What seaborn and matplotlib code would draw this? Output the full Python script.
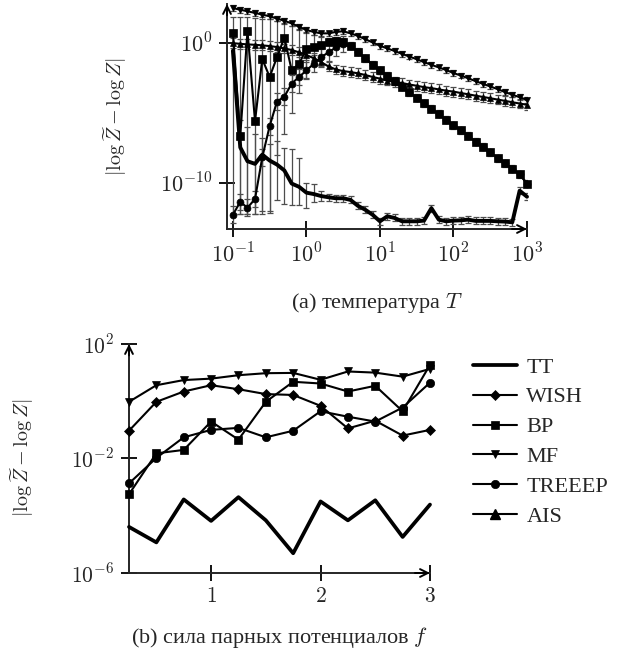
import numpy as np
import matplotlib
matplotlib.use("Agg")
import matplotlib.pyplot as plt
import seaborn as sns
from matplotlib.ticker import NullLocator

# --- top panel: temperature T (values are log10 of the error) ---
T = [0.1, 0.126, 0.158, 0.2, 0.251, 0.316, 0.398, 0.501, 0.631, 0.794,
     1, 1.26, 1.58, 2, 2.51, 3.16, 3.98, 5.01, 6.31, 7.94,
     10, 12.6, 15.8, 20, 25.1, 31.6, 39.8, 50.1, 63.1, 79.4,
     100, 126, 158, 200, 251, 316, 398, 501, 631, 794, 1000]

mf_T = [2.51, 2.39, 2.28, 2.16, 2.04, 1.92, 1.76, 1.60, 1.41, 1.17,
        0.94, 0.80, 0.70, 0.70, 0.80, 0.85, 0.70, 0.52, 0.28, 0.05,
        -0.19, -0.38, -0.56, -0.77, -0.96, -1.15, -1.36, -1.55, -1.74, -1.92,
        -2.14, -2.32, -2.51, -2.72, -2.91, -3.10, -3.29, -3.50, -3.69, -3.87, -4.06]

ais_T = [0.00, -0.05, -0.09, -0.12, -0.16, -0.21, -0.28, -0.38, -0.49, -0.66,
         -0.85, -1.08, -1.36, -1.67, -1.88, -2.00, -2.07, -2.16, -2.28, -2.42,
         -2.54, -2.68, -2.77, -2.86, -2.96, -3.05, -3.15, -3.22, -3.31, -3.40,
         -3.47, -3.57, -3.66, -3.76, -3.85, -3.94, -4.04, -4.13, -4.23, -4.32, -4.41]

bp_T = [0.75, -6.64, 0.87, -5.59, -1.13, -2.42, -1.01, 0.40, -1.95, -1.48,
        -0.42, -0.31, -0.14, 0.09, 0.16, 0.09, -0.19, -0.61, -1.08, -1.55,
        -1.95, -2.35, -2.72, -3.12, -3.52, -3.90, -4.30, -4.69, -5.07, -5.47,
        -5.87, -6.24, -6.64, -7.04, -7.42, -7.82, -8.22, -8.59, -8.99, -9.39, -10.05]

treeep_T = [-12.28, -11.36, -11.78, -11.15, -8.17, -5.94, -4.18, -3.83, -2.89, -2.42,
            -1.95, -1.48, -1.01, -0.66, -0.31, -0.07, -0.19, -0.61, -1.08, -1.55,
            -1.95, -2.35, -2.72, -3.12, -3.52, -3.90, -4.30, -4.69, -5.07, -5.47,
            -5.87, -6.24, -6.64, -7.04, -7.42, -7.82, -8.22, -8.59, -8.99, -9.39, -10.05]

tt_T = [-0.54, -7.46, -8.45, -8.64, -7.98, -8.40, -8.69, -9.11, -10.05, -10.28,
        -10.70, -10.80, -10.94, -11.03, -11.10, -11.10, -11.22, -11.64, -11.92, -12.28,
        -12.75, -12.39, -12.51, -12.75, -12.75, -12.75, -12.70, -11.81, -12.63, -12.75,
        -12.70, -12.68, -12.63, -12.72, -12.72, -12.72, -12.75, -12.77, -12.82, -10.56, -10.99]

# error bar ranges (log10 lower / upper) where the bars are large
bp_lo = [-12.2, -12.2, -12.2, -12.2, -12.2, -12.0, -8.0, -6.5, -5.0, -3.6, -2.5, -1.6, -1.0]
bp_hi = [1.85, 1.85, 1.85, 1.8, 1.75, 1.7, 1.6, 1.45, 1.2, 1.0, 0.8, 0.6, 0.45]
tt_lo = [-12.2, -12.2, -12.2, -12.0, -12.16, -11.2, -11.5, -11.6, -11.6, -11.8, -11.4, -11.3]
tt_hi = [-5.5, -6.0, -6.5, -6.8, -7.2, -7.0, -7.5, -7.6, -8.2, -10.0, -10.1, -10.6]
mf_err, ais_err, treeep_err, small_err = 0.2, 0.35, 0.6, 0.25

# --- bottom panel: pairwise potential strength f ---
f = [0.25, 0.5, 0.75, 1.0, 1.25, 1.5, 1.75, 2.0, 2.25, 2.5, 2.75, 3.0]
tt_f = [-4.39, -4.93, -3.43, -4.18, -3.35, -4.16, -5.31, -3.50, -4.16, -3.46, -4.74, -3.61]
wish_f = [-1.03, -0.02, 0.34, 0.56, 0.42, 0.25, 0.22, -0.16, -0.95, -0.68, -1.20, -1.00]
bp_f = [-3.25, -1.82, -1.70, -0.71, -1.34, -0.02, 0.68, 0.62, 0.34, 0.54, -0.35, 1.27]
mf_f = [-0.02, 0.56, 0.74, 0.79, 0.91, 0.98, 0.99, 0.75, 1.04, 1.00, 0.86, 1.13]
treeep_f = [-2.87, -1.98, -1.26, -1.00, -0.93, -1.26, -1.03, -0.35, -0.54, -0.71, -0.22, 0.65]

methods = ['TT', 'WISH', 'BP', 'MF', 'TREEEP', 'AIS']
markers = {'TT': None, 'WISH': 'D', 'BP': 's', 'MF': 'v', 'TREEEP': 'o', 'AIS': '^'}
ylab = r'$|\log\widetilde{Z} - \log Z|$'

sns.set_style("ticks")
plt.rcParams['font.family'] = ['Liberation Serif', 'DejaVu Serif']
plt.rcParams['mathtext.fontset'] = 'cm'

W, H = 617, 662
fig = plt.figure(figsize=(W / 100, H / 100), dpi=100)


def px_axes(l, r, t, b):
    return fig.add_axes([l / W, 1 - b / H, (r - l) / W, (b - t) / H])


def style_axes(ax, size):
    sns.despine(ax=ax)
    for s in ('left', 'bottom'):
        ax.spines[s].set_linewidth(1.4)
    ax.tick_params(direction='inout', length=11, width=1.3, labelsize=size, color='k', pad=5)
    ax.xaxis.set_minor_locator(NullLocator())
    ax.yaxis.set_minor_locator(NullLocator())
    for xy, xyt in (((1.0, 0), (0.95, 0)), ((0, 1.0), (0, 0.95))):
        ax.annotate('', xy=xy, xytext=xyt, xycoords='axes fraction',
                    arrowprops=dict(arrowstyle='->', lw=1.4, color='k', shrinkA=0, shrinkB=0,
                                    mutation_scale=14))


def draw(ax, x, logy, name, lw=1.5, ms=4.5):
    y = 10 ** np.asarray(logy)
    sns.lineplot(x=x, y=y, ax=ax, color='k', linewidth=lw, marker=markers[name],
                 markersize=ms, markeredgecolor='k', markeredgewidth=0.5,
                 label=name, legend=False, clip_on=False, zorder=3, sort=False)


def bars(ax, x, logy, lo, hi):
    y = 10 ** np.asarray(logy)
    ax.errorbar(x, y, yerr=[y - 10 ** np.asarray(lo), 10 ** np.asarray(hi) - y], fmt='none',
                ecolor='0.3', elinewidth=0.9, capsize=2.5, capthick=0.9, zorder=2)


# ---------------- top panel ----------------
ax1 = px_axes(227, 527, 4, 229)
ax1.set_xscale('log')
ax1.set_yscale('log')

Tn = np.array(T)
n_bp, n_tt = len(bp_lo), len(tt_lo)
bars(ax1, Tn, mf_T, np.array(mf_T) - mf_err, np.array(mf_T) + mf_err)
bars(ax1, Tn, ais_T, np.array(ais_T) - ais_err, np.array(ais_T) + ais_err)
bars(ax1, Tn[:n_bp], bp_T[:n_bp], bp_lo, bp_hi)
bars(ax1, Tn[n_bp:], bp_T[n_bp:], np.array(bp_T[n_bp:]) - small_err, np.array(bp_T[n_bp:]) + small_err)
bars(ax1, Tn[:16], treeep_T[:16], np.array(treeep_T[:16]) - treeep_err, np.array(treeep_T[:16]) + treeep_err)
bars(ax1, Tn[1:1 + n_tt], tt_T[1:1 + n_tt], tt_lo, tt_hi)
bars(ax1, Tn[1 + n_tt:], tt_T[1 + n_tt:], np.array(tt_T[1 + n_tt:]) - small_err, np.array(tt_T[1 + n_tt:]) + small_err)

draw(ax1, T, ais_T, 'AIS', ms=4.5)
draw(ax1, T, mf_T, 'MF', ms=4.5)
draw(ax1, T, treeep_T, 'TREEEP', ms=5)
draw(ax1, T, bp_T, 'BP', ms=5.5)
draw(ax1, T, tt_T, 'TT', lw=2.8)

ax1.set_xlim(10 ** -1.08, 1000)
ax1.set_ylim(10 ** -13.3, 10 ** 2.8)
ax1.set_xticks([0.1, 1, 10, 100, 1000])
ax1.set_xticklabels([r'$10^{-1}$', r'$10^{0}$', r'$10^{1}$', r'$10^{2}$', r'$10^{3}$'])
ax1.set_yticks([1e-10, 1])
ax1.set_yticklabels([r'$10^{-10}$', r'$10^{0}$'])
style_axes(ax1, 16)
fig.text(115 / W, 1 - 117 / H, ylab, rotation=90, ha='center', va='center', fontsize=14.5)
fig.text(377 / W, 1 - 303 / H, '(a) температура $T$', ha='center', va='center', fontsize=16)

# ---------------- bottom panel ----------------
ax2 = px_axes(129, 430, 344, 573)
ax2.set_yscale('log')
draw(ax2, f, tt_f, 'TT', lw=2.7)
draw(ax2, f, wish_f, 'WISH', ms=5.5)
draw(ax2, f, bp_f, 'BP', ms=6)
draw(ax2, f, mf_f, 'MF', ms=6)
draw(ax2, f, treeep_f, 'TREEEP', ms=6)
# AIS has no result in this experiment, it only appears in the legend
ax2.plot([], [], color='k', lw=1.5, marker='^', markersize=6.5, label='AIS')

ax2.set_xlim(0.25, 3)
ax2.set_ylim(1e-6, 1e2)
ax2.set_xticks([1, 2, 3])
ax2.set_xticklabels([r'$1$', r'$2$', r'$3$'])
ax2.set_yticks([1e-6, 1e-2, 1e2])
ax2.set_yticklabels([r'$10^{-6}$', r'$10^{-2}$', r'$10^{2}$'])
style_axes(ax2, 15.5)
fig.text(22 / W, 1 - 458 / H, ylab, rotation=90, ha='center', va='center', fontsize=14.5)

handles, labels = ax2.get_legend_handles_labels()
order = [labels.index(m) for m in methods]
fig.legend([handles[i] for i in order], methods, loc='upper left',
           bbox_to_anchor=(473 / W, 1 - 357 / H), frameon=False, fontsize=16,
           handlelength=2.0, handletextpad=0.4, labelspacing=0.42, borderpad=0,
           borderaxespad=0)
fig.text(280 / W, 1 - 638 / H, '(b) сила парных потенциалов $f$', ha='center', va='center',
         fontsize=16)

fig.savefig('out.png', dpi=100)
